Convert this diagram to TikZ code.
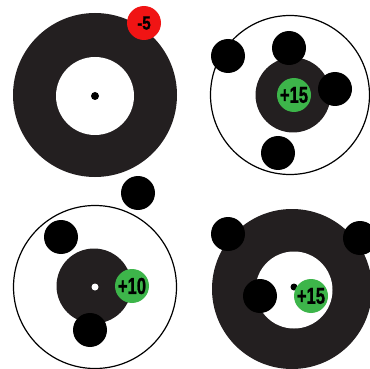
\documentclass[tikz,border=0pt]{standalone}
\usepackage{fontspec}
\usepackage{graphicx}
\setmainfont{Liberation Sans}
\newfontfamily\scorefont[FakeBold=1.2]{Liberation Sans}
\definecolor{ringdark}{HTML}{231F20}
\definecolor{scorered}{HTML}{F01414}
\definecolor{scoregreen}{HTML}{3DB54A}
\newcommand\narrowtxt[2]{\scalebox{#1}[1]{\scorefont\bfseries #2}}
\tikzset{
  disc/.style={circle, inner sep=0pt, minimum size=#1, fill=ringdark},
  hole/.style={circle, inner sep=0pt, minimum size=#1, fill=white},
  ring/.style={circle, inner sep=0pt, minimum size=#1, draw=black, line width=1.2pt},
  ball/.style={circle, inner sep=0pt, minimum size=34pt, fill=black},
  dotmark/.style={circle, inner sep=0pt, minimum size=#1, fill=black},
  score/.style={circle, inner sep=0pt, minimum size=34pt, fill=#1, text=black,
    font=\fontsize{23}{23}\selectfont},
}
\begin{document}
\begin{tikzpicture}[x=1pt, y=-1pt]
\useasboundingbox (0,0) rectangle (370,369);
\clip (0,0) rectangle (370,369);
% panel 1
\node[disc=164pt] (t1) at (95,95) {};
\node[hole=78pt] (h1) at (95,96) {};
\node[dotmark=8pt] (c1) at (95,96) {};
\node[score=scorered] (s1) at (144,23) {\fontsize{19}{19}\selectfont\narrowtxt{0.8}{-5}};
% panel 2
\node[ring=159pt] (r2) at (290,95) {};
\node[disc=75pt] (t2) at (293,95) {};
\node[ball] (b2a) at (228,56) {};
\node[ball] (b2b) at (289,48) {};
\node[ball] (b2c) at (335,89) {};
\node[ball] (b2d) at (278,153) {};
\node[score=scoregreen] (s2) at (294,95) {\narrowtxt{0.72}{+15}};
% panel 3
\node[ring=163pt] (r3) at (95,287) {};
\node[disc=75pt] (t3) at (94,286) {};
\node[circle, fill=white, inner sep=0pt, minimum size=7pt] (c3) at (95,287) {};
\node[ball] (b3a) at (138,193) {};
\node[ball] (b3b) at (61,237) {};
\node[ball] (b3c) at (90,330) {};
\node[score=scoregreen] (s3) at (132,286) {\narrowtxt{0.72}{+10}};
% panel 4
\node[disc=160pt] (t4) at (292,289) {};
\node[hole=77pt] (h4) at (294,290) {};
\node[dotmark=7pt] (c4) at (294,287) {};
\node[ball] (b4a) at (228,234) {};
\node[ball] (b4b) at (360,238) {};
\node[ball] (b4c) at (260,296) {};
\node[score=scoregreen] (s4) at (311,296) {\narrowtxt{0.72}{+15}};
\end{tikzpicture}
\end{document}
